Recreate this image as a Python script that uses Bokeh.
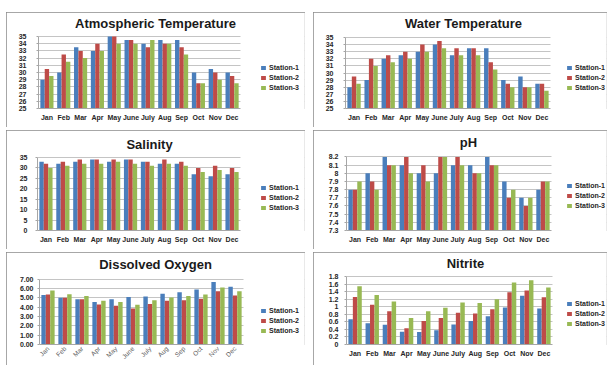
from math import pi

from bokeh.embed import file_html
from bokeh.layouts import column, row
from bokeh.models import (BoxAnnotation, ColumnDataSource, FixedTicker, Label, Legend,
                          LegendItem, Range1d)
from bokeh.plotting import figure
from bokeh.resources import INLINE
from bokeh.transform import dodge

months = ["Jan", "Feb", "Mar", "Apr", "May", "June", "July", "Aug", "Sep", "Oct", "Nov", "Dec"]
stations = ["Station-1", "Station-2", "Station-3"]

# Atmospheric temperature (deg C)
atm_s1 = [29.0, 30.0, 33.5, 33.0, 35.0, 34.5, 34.0, 34.5, 34.5, 30.0, 30.5, 30.0]
atm_s2 = [30.5, 32.5, 33.0, 34.0, 35.0, 34.5, 33.5, 34.0, 33.5, 28.5, 30.0, 29.5]
atm_s3 = [29.5, 31.5, 32.0, 33.0, 34.0, 34.0, 34.5, 34.0, 32.5, 28.5, 29.0, 28.5]

# Water temperature (deg C)
wat_s1 = [28.0, 29.0, 32.0, 32.5, 33.0, 34.0, 32.5, 33.5, 33.5, 29.0, 29.5, 28.5]
wat_s2 = [29.5, 32.0, 32.5, 33.0, 34.0, 34.5, 33.5, 33.5, 31.5, 28.5, 28.0, 28.5]
wat_s3 = [28.5, 31.0, 31.5, 32.0, 33.0, 33.5, 32.5, 32.5, 30.5, 28.0, 28.0, 27.5]

# Salinity
sal_s1 = [33, 32, 33, 34, 33, 34, 33, 32, 32, 27, 26, 27]
sal_s2 = [32, 33, 34, 34, 34, 34, 33, 34, 33, 30, 31, 30]
sal_s3 = [30, 31, 32, 32, 33, 32, 31, 32, 31, 28, 29, 28]

# pH
ph_s1 = [7.8, 8.0, 8.2, 8.1, 8.0, 8.0, 8.1, 8.1, 8.2, 7.9, 7.7, 7.8]
ph_s2 = [7.8, 7.9, 8.1, 8.2, 8.1, 8.2, 8.2, 8.0, 8.1, 7.7, 7.6, 7.9]
ph_s3 = [7.9, 7.8, 8.1, 8.0, 7.9, 8.2, 8.1, 8.0, 8.1, 7.8, 7.7, 7.9]

# Dissolved oxygen
do_s1 = [5.30, 5.00, 4.85, 4.55, 4.85, 5.10, 5.15, 5.45, 5.60, 5.90, 6.70, 6.20]
do_s2 = [5.35, 5.00, 4.85, 4.30, 4.15, 3.85, 4.35, 4.70, 4.75, 4.90, 5.70, 5.25]
do_s3 = [5.80, 5.40, 5.20, 4.70, 4.55, 4.25, 4.75, 5.05, 5.20, 5.35, 6.10, 5.70]

# Nitrite
nit_s1 = [0.67, 0.56, 0.52, 0.34, 0.33, 0.38, 0.53, 0.62, 0.75, 0.98, 1.29, 0.95]
nit_s2 = [1.26, 1.05, 0.88, 0.43, 0.62, 0.70, 0.84, 0.82, 0.93, 1.38, 1.43, 1.25]
nit_s3 = [1.54, 1.31, 1.14, 0.70, 0.88, 0.97, 1.11, 1.10, 1.20, 1.64, 1.70, 1.51]

# y-axis ticks and their labels
temp_ticks = [25, 26, 27, 28, 29, 30, 31, 32, 33, 34, 35]
temp_labels = ["25", "26", "27", "28", "29", "30", "31", "32", "33", "34", "35"]
sal_ticks = [0, 5, 10, 15, 20, 25, 30, 35]
sal_labels = ["0", "5", "10", "15", "20", "25", "30", "35"]
ph_ticks = [7.3, 7.4, 7.5, 7.6, 7.7, 7.8, 7.9, 8.0, 8.1, 8.2]
ph_labels = ["7.3", "7.4", "7.5", "7.6", "7.7", "7.8", "7.9", "8", "8.1", "8.2"]
do_ticks = [0, 1, 2, 3, 4, 5, 6, 7]
do_labels = ["0.00", "1.00", "2.00", "3.00", "4.00", "5.00", "6.00", "7.00"]
nit_ticks = [0, 0.2, 0.4, 0.6, 0.8, 1.0, 1.2, 1.4, 1.6, 1.8]
nit_labels = ["0", "0.2", "0.4", "0.6", "0.8", "1", "1.2", "1.4", "1.6", "1.8"]

COLORS = ["#4a7ebb", "#be4b48", "#98b954"]
TEXT = "#262626"
FONT = "Liberation Sans"

# month slots on a numeric axis: 1..12
month_pos = list(range(1, len(months) + 1))


def panel(title, series, ticks, tick_labels, w, h, bars, title_pos, legend_top, legend_x,
          y_standoff, rotate=False):
    # bars = (left, right, top, bottom) of the bar area inside the panel, in px.
    # The plotting frame reaches up to the panel's top and right edges so that the
    # title and legend live inside it; the strip right of the bars is masked white.
    left, right, top, bottom = bars
    frame_right, frame_top = w - 1, 1
    n = len(months)
    unit_x = (right - left) / n
    unit_y = (bottom - top) / (ticks[-1] - ticks[0])
    x_end = 0.5 + n + (frame_right - right) / unit_x
    y_end = ticks[-1] + (top - frame_top) / unit_y

    src = ColumnDataSource(dict(x=month_pos, s1=series[0], s2=series[1], s3=series[2]))
    p = figure(x_range=Range1d(0.5, x_end), y_range=Range1d(ticks[0], y_end),
               width=w, height=h, output_backend="svg", toolbar_location=None,
               min_border_left=left, min_border_right=w - frame_right,
               min_border_top=frame_top, min_border_bottom=h - bottom)
    p.outline_line_color = None
    p.background_fill_color = "white"
    p.border_fill_color = "white"

    ticker = FixedTicker(ticks=ticks)
    p.yaxis.ticker = ticker
    p.ygrid.ticker = ticker
    p.yaxis.bounds = (ticks[0], ticks[-1])
    p.yaxis.major_label_overrides = dict(zip(ticks, tick_labels))
    p.ygrid.grid_line_color = "#c4c4c4"
    p.xgrid.grid_line_color = None

    # white strip right of the bar area (hides the grid lines under the legend)
    p.add_layout(BoxAnnotation(left=0.5 + n, fill_color="white", fill_alpha=1.0,
                               line_color=None, level="underlay"))

    renderers = []
    for i, (key, off) in enumerate(zip(["s1", "s2", "s3"], [-0.26, 0.0, 0.26])):
        r = p.vbar(x=dodge("x", off), top=key, bottom=ticks[0],
                   width=0.26, source=src, fill_color=COLORS[i], line_color=None)
        renderers.append(r)

    p.yaxis.axis_line_color = "#a6a6a6"
    p.yaxis.major_tick_line_color = "#a6a6a6"
    p.yaxis.major_tick_out = 2
    p.yaxis.major_tick_in = 0
    p.yaxis.minor_tick_line_color = None
    p.yaxis.major_label_standoff = y_standoff
    p.yaxis.axis_label_standoff = 0
    p.yaxis.major_label_text_font = FONT
    p.yaxis.major_label_text_font_size = "7px"
    p.yaxis.major_label_text_font_style = "bold"
    p.yaxis.major_label_text_color = TEXT

    p.xaxis.ticker = FixedTicker(ticks=month_pos)
    p.xaxis.major_label_overrides = dict(zip(month_pos, months))
    p.xaxis.bounds = (0.5, 0.5 + n)
    p.xaxis.axis_line_color = "#a6a6a6"
    p.xaxis.major_tick_line_color = None
    p.xaxis.minor_tick_line_color = None
    p.xaxis.major_tick_out = 0
    p.xaxis.axis_label_standoff = 0
    p.xaxis.major_label_text_font = FONT
    if rotate:
        p.xaxis.major_label_orientation = pi / 4
        p.xaxis.major_label_text_font_size = "6.5px"
        p.xaxis.major_label_text_color = "#595959"
        p.xaxis.major_label_standoff = 3
    else:
        p.xaxis.major_label_orientation = "horizontal"
        p.xaxis.major_label_text_font_size = "7px"
        p.xaxis.major_label_text_font_style = "bold"
        p.xaxis.major_label_text_color = TEXT
        p.xaxis.major_label_standoff = 5

    # chart title, centred above the bars
    tx, ty = title_pos
    p.add_layout(Label(x=0.5 + (tx - left) / unit_x, y=ticks[-1] + (top - ty) / unit_y,
                       text=title, text_align="center", text_baseline="middle",
                       text_font=FONT, text_font_size="13px",
                       text_font_style="bold", text_color="#1a1a1a"))

    row_h = 10
    legend = Legend(
        items=[LegendItem(label=s, renderers=[r]) for s, r in zip(stations, renderers)],
        location=(legend_x - left, bottom - (legend_top + 3 * row_h)),
        orientation="vertical", padding=0, margin=0, spacing=0,
        glyph_width=6, glyph_height=5, label_height=row_h, label_standoff=3,
        label_text_font=FONT, label_text_font_size="7px", label_text_font_style="bold",
        label_text_color=TEXT, border_line_color=None, background_fill_alpha=0,
    )
    p.add_layout(legend)

    p.styles = {"outline": "1px solid #8a8a8a", "outline-offset": "-1px"}
    return p


p_atm = panel("Atmospheric Temperature", [atm_s1, atm_s2, atm_s3], temp_ticks, temp_labels,
              299, 115, (32, 234, 24, 96), (149, 11), 50, 254, 10)
p_wat = panel("Water Temperature", [wat_s1, wat_s2, wat_s3], temp_ticks, temp_labels,
              294, 115, (32, 237, 25, 96), (150, 11), 50, 253, 10)
p_sal = panel("Salinity", [sal_s1, sal_s2, sal_s3], sal_ticks, sal_labels,
              299, 119, (31, 234, 27, 100), (143, 14), 52, 254, 8)
p_ph = panel("pH", [ph_s1, ph_s2, ph_s3], ph_ticks, ph_labels,
             294, 119, (33, 238, 27, 102), (155, 12), 52, 253, 6)
p_do = panel("Dissolved Oxygen", [do_s1, do_s2, do_s3], do_ticks, do_labels,
             299, 113, (33, 237, 27, 93), (149, 12), 54, 254, 4, rotate=True)
p_nit = panel("Nitrite", [nit_s1, nit_s2, nit_s3], nit_ticks, nit_labels,
              294, 113, (33, 239, 26, 100), (152, 12), 54, 253, 6)

layout = column(
    row(p_atm, p_wat, spacing=8),
    row(p_sal, p_ph, spacing=8),
    row(p_do, p_nit, spacing=8),
    spacing=3,
)
layout.margin = (12, 0, 0, 6)

open("out.html", "w").write(file_html(layout, INLINE))
